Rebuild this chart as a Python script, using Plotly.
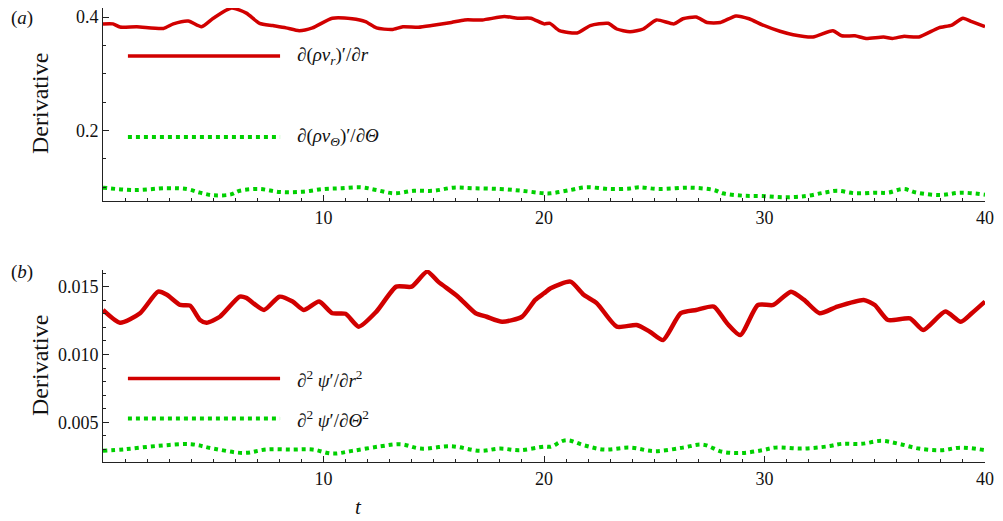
import plotly.graph_objects as go

# ---- data ----
t_a_red = [0.0, 0.45, 0.77, 1.53, 2.74, 3.19, 3.87, 4.47, 5.0, 5.83, 6.5, 7.1, 7.7, 8.3, 8.9, 9.5,
           10.4, 11.3, 11.9, 12.4, 13.1, 13.6, 14.3, 14.9, 15.8, 16.4, 17.2, 18.2, 18.8, 19.4, 20.0,
           20.27, 20.7, 21.5, 22.1, 22.9, 23.3, 23.9, 24.5, 25.1, 25.9, 26.3, 26.9, 27.4, 28.0, 28.7,
           29.3, 29.9, 30.7, 31.3, 32.2, 33.1, 33.5, 34.1, 34.6, 35.4, 35.8, 36.3, 37.0, 37.9, 38.5,
           39.0, 39.4, 40.0]
v_a_red = [0.388, 0.388, 0.3824, 0.383, 0.380, 0.388, 0.393, 0.383, 0.398, 0.416, 0.407, 0.389, 0.385,
           0.381, 0.376, 0.381, 0.398, 0.397, 0.392, 0.381, 0.378, 0.383, 0.382, 0.385, 0.3905, 0.395,
           0.395, 0.401, 0.398, 0.398, 0.388,
           0.389, 0.376, 0.372, 0.385, 0.389, 0.379, 0.374, 0.379, 0.395, 0.388, 0.397, 0.400, 0.3905,
           0.3905, 0.402, 0.397, 0.3864, 0.375, 0.369, 0.365, 0.376, 0.367, 0.367, 0.3623, 0.365,
           0.3623, 0.366, 0.365, 0.381, 0.386, 0.398, 0.392, 0.383]

t_a_green = [0.0, 1.4, 2.9, 3.8, 4.4, 5.0, 5.8, 6.2, 7.1, 8.0, 9.0, 10.0, 10.8, 11.7, 12.4, 13.2,
             14.1, 15.0, 15.9, 16.8, 18.0, 19.0, 20.0, 20.3, 21.2, 21.9, 23.0, 23.9, 24.3, 25.2,
             26.6, 27.7, 28.1, 29.0, 29.9, 30.9, 31.9, 32.7, 33.3, 34.1, 35.0, 35.6, 36.3, 36.9,
             38.0, 38.9, 40.0]
v_a_green = [0.0994, 0.0953, 0.0984, 0.097, 0.0906, 0.086, 0.0875, 0.094, 0.097, 0.0918, 0.092, 0.097,
             0.0984, 0.100, 0.0953, 0.0895, 0.094, 0.094, 0.0994, 0.0984, 0.097, 0.094, 0.0895,
             0.0895, 0.0953, 0.1001, 0.097, 0.098, 0.1001, 0.097, 0.0994, 0.0953, 0.0895, 0.0853,
             0.0847, 0.0825, 0.0847, 0.0906, 0.094, 0.0895, 0.0906, 0.0906, 0.097, 0.0906, 0.0865,
             0.0906, 0.0871]

t_b_red = [0.0, 0.77, 1.68, 2.5, 2.9, 3.5, 3.95, 4.4, 4.7, 5.3, 6.2, 6.5, 7.3, 8.0, 8.6, 9.1, 9.8,
           10.4, 11.0, 11.6, 12.4, 13.3, 14.0, 14.7, 15.2, 16.1, 16.9, 17.4, 18.1, 19.0, 19.6, 20.0,
           20.3, 21.2, 21.8, 22.4, 23.3, 24.2, 24.8, 25.4, 26.2, 26.9, 27.7, 28.3, 28.9, 29.7, 30.4,
           31.2, 31.8, 32.5, 33.3, 34.5, 35.0, 35.6, 36.6, 37.2, 38.2, 38.9, 39.4, 40.0]
v_b_red = [0.01328, 0.01234, 0.01304, 0.01463, 0.0144, 0.01365, 0.0136, 0.01254, 0.01234, 0.01278,
           0.01426, 0.01417, 0.01328, 0.01426, 0.0139, 0.01328, 0.0139, 0.01304, 0.0130, 0.01205,
           0.01316, 0.0150, 0.0150, 0.01611, 0.01537, 0.01426, 0.01304, 0.01278, 0.01241, 0.01278,
           0.01402, 0.01451,
           0.01488, 0.01537, 0.0144, 0.01377, 0.01205, 0.01217, 0.01168, 0.01106, 0.01304, 0.01328,
           0.01353, 0.0123, 0.01143, 0.01365, 0.01365, 0.01463, 0.01402, 0.01304, 0.01353, 0.01402,
           0.01365, 0.01254, 0.01266, 0.0118, 0.01316, 0.01241, 0.01304, 0.0139]

t_b_green = [0.0, 1.0, 2.5, 4.0, 5.0, 6.4, 7.4, 8.6, 9.5, 10.4, 11.3, 12.6, 13.5, 14.4, 15.8, 17.1,
             18.0, 18.9, 20.0, 20.3, 21.0, 21.8, 22.7, 23.9, 25.0, 26.3, 27.2, 28.1, 29.0, 29.9,
             30.5, 31.7, 32.9, 33.5, 34.4, 35.3, 36.1, 37.0, 38.0, 38.9, 40.0]
v_b_green = [0.00289, 0.00301, 0.00326, 0.00338, 0.00306, 0.00274, 0.00299, 0.00299, 0.00299, 0.00269,
             0.00289, 0.00323, 0.00338, 0.00306, 0.00323, 0.00289, 0.00306, 0.00294, 0.0032,
             0.0032, 0.00368, 0.00331, 0.00299, 0.00313, 0.00287, 0.00313, 0.00335, 0.00282, 0.00274,
             0.00294, 0.00313, 0.00306, 0.00323, 0.00341, 0.00341, 0.00363, 0.00341, 0.00306,
             0.00294, 0.00313, 0.00294]

x_ticks = [10, 20, 30, 40]
x_ticktext = ["10", "20", "30", "40"]
ya_ticks = [0.2, 0.4]
ya_ticktext = ["0.2", "0.4"]
yb_ticks = [0.005, 0.010, 0.015]
yb_ticktext = ["0.005", "0.010", "0.015"]

labels = {
    "a_red": "∂(<i>ρv</i><sub><i>r</i></sub>)′/∂<i>r</i>",
    "a_green": "∂(<i>ρv</i><sub><i>Θ</i></sub>)′/∂<i>Θ</i>",
    "b_red": "∂<sup>2</sup> <i>ψ</i>′/∂<i>r</i><sup>2</sup>",
    "b_green": "∂<sup>2</sup> <i>ψ</i>′/∂<i>Θ</i><sup>2</sup>",
}

RED = "#d10000"
GREEN = "#00d000"
FONT = "Liberation Serif, Times New Roman, Times, serif"
AX = "#222222"
DOT = "4px,4px"

fig = go.Figure()
fig.add_trace(go.Scatter(x=t_a_red, y=v_a_red, mode="lines",
                         line=dict(color=RED, width=3.5, shape="spline", smoothing=0.6),
                         xaxis="x", yaxis="y", showlegend=False))
fig.add_trace(go.Scatter(x=t_a_green, y=v_a_green, mode="lines",
                         line=dict(color=GREEN, width=4, dash=DOT, shape="spline"),
                         xaxis="x", yaxis="y", showlegend=False))
fig.add_trace(go.Scatter(x=t_b_red, y=v_b_red, mode="lines",
                         line=dict(color=RED, width=4.5, shape="spline", smoothing=0.6),
                         xaxis="x2", yaxis="y2", showlegend=False))
fig.add_trace(go.Scatter(x=t_b_green, y=v_b_green, mode="lines",
                         line=dict(color=GREEN, width=4, dash=DOT, shape="spline"),
                         xaxis="x2", yaxis="y2", showlegend=False))

common_x = dict(range=[0, 40], tickvals=x_ticks, ticktext=x_ticktext, ticks="inside", ticklen=6,
                tickcolor=AX, showline=True, linecolor=AX, linewidth=1, showgrid=False,
                zeroline=False, tickfont=dict(family=FONT, size=18, color="#111"),
                minor=dict(dtick=1, tick0=0, ticks="inside", ticklen=3, tickcolor=AX),
                mirror=False, ticklabeloverflow="allow")
common_y = dict(ticks="inside", ticklen=6, tickcolor=AX, showline=True, linecolor=AX, linewidth=1,
                showgrid=False, zeroline=False, tickfont=dict(family=FONT, size=18, color="#111"),
                ticklabeloverflow="allow")

# the page body has an 8px default margin, so the figure is made 8px smaller
fig.update_layout(
    width=995, height=513,
    margin=dict(l=95, r=18, t=0, b=59),
    font=dict(family=FONT, size=18, color="#111"),
    paper_bgcolor="white", plot_bgcolor="white",
    xaxis=dict(common_x, domain=[0, 1], anchor="y"),
    yaxis=dict(common_y, domain=[0.575, 1], range=[0.076, 0.416], tickvals=ya_ticks,
               ticktext=ya_ticktext, minor=dict(dtick=0.05, tick0=0, ticks="inside", ticklen=3,
                                                tickcolor=AX)),
    xaxis2=dict(common_x, domain=[0, 1], anchor="y2"),
    yaxis2=dict(common_y, domain=[0, 0.423], range=[0.00207, 0.01623], tickvals=yb_ticks,
                ticktext=yb_ticktext, minor=dict(dtick=0.001, tick0=0, ticks="inside", ticklen=3,
                                                 tickcolor=AX)),
)

def legend_entry(xref, yref, yval, color, dash, text):
    fig.add_shape(type="line", xref=xref, yref=yref, x0=1.13, x1=8.03, y0=yval, y1=yval,
                  line=dict(color=color, width=4 if dash else 3.5, dash=dash or "solid"))
    fig.add_annotation(xref=xref, yref=yref, x=8.7, y=yval, text=text, showarrow=False,
                       xanchor="left", yanchor="middle",
                       font=dict(family=FONT, size=19, color="#111"))

legend_entry("x", "y", 0.3312, RED, None, labels["a_red"])
legend_entry("x", "y", 0.1889, GREEN, DOT, labels["a_green"])
legend_entry("x2", "y2", 0.00822, RED, None, labels["b_red"])
legend_entry("x2", "y2", 0.00527, GREEN, DOT, labels["b_green"])

def px_to_paper(px, py):
    return (px - 103) / 882, 1 - (py - 8) / 454

for txt, (px, py), size, ang in [
    ("(<i>a</i>)", (22, 18), 19, 0),
    ("(<i>b</i>)", (22, 272), 19, 0),
    ("Derivative", (40, 104), 24, -90),
    ("Derivative", (40, 366), 24, -90),
    ("<i>t</i>", (358, 507), 21, 0),
]:
    xp, yp = px_to_paper(px, py)
    fig.add_annotation(xref="paper", yref="paper", x=xp, y=yp, text=txt, showarrow=False,
                       xanchor="center", yanchor="middle", textangle=ang,
                       font=dict(family=FONT, size=size, color="#111"))

fig.write_html("out.html")
